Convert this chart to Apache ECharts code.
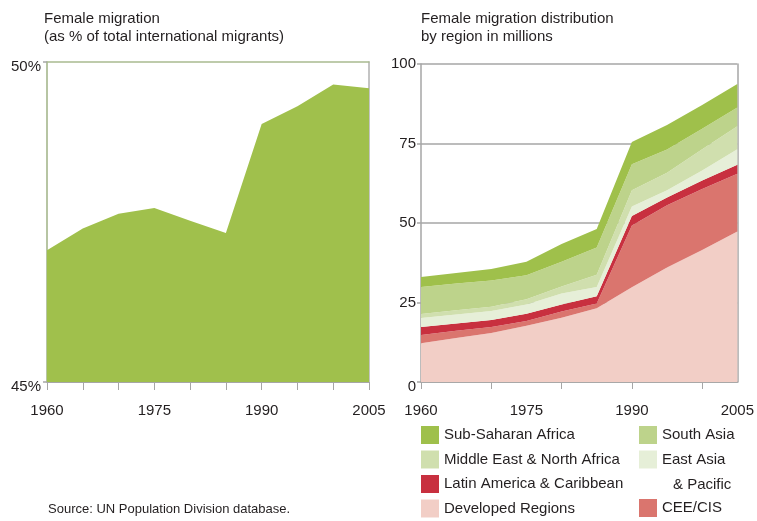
<!DOCTYPE html>
<html>
<head>
<meta charset="utf-8">
<script src="https://cdn.jsdelivr.net/npm/echarts@6/dist/echarts.min.js"></script>
<style>
  html, body { margin: 0; padding: 0; background: #fff; }
  #chart { width: 757px; height: 521px; }
</style>
</head>
<body>
<div id="chart"></div>
<script>
// Years shared by both panels (5-year steps)
const years = ['1960', '1965', '1970', '1975', '1980', '1985', '1990', '1995', '2000', '2005'];

// Left panel: women as % of all international migrants
const femaleShare = [47.06, 47.40, 47.63, 47.72, 47.52, 47.33, 49.03, 49.31, 49.65, 49.59];

// Right panel: female migrants by region, millions (stacked bottom to top)
const developedRegions = [12.2, 13.8, 15.4, 17.7, 20.2, 23.2, 29.8, 36.0, 41.5, 47.3];
const ceeCis           = [2.6, 2.3, 1.9, 1.5, 2.0, 1.5, 19.4, 19.6, 19.2, 18.2];
const latinAmerica     = [2.5, 2.3, 2.2, 2.3, 2.2, 2.3, 3.0, 2.4, 2.7, 2.8];
const eastAsiaPacific  = [2.8, 2.8, 2.8, 2.9, 3.4, 2.9, 3.0, 2.3, 3.1, 4.9];
const middleEast       = [1.3, 1.4, 1.4, 1.6, 2.2, 3.8, 5.1, 5.5, 6.7, 7.2];
const southAsia        = [8.5, 8.4, 8.2, 7.6, 7.8, 8.6, 8.2, 7.3, 6.4, 5.9];
const subSaharan       = [3.1, 3.3, 3.6, 4.2, 5.6, 5.8, 7.0, 7.7, 7.5, 7.4];

const FONT = "'Liberation Sans', Arial, sans-serif";
const FS = 15;
const TXT = '#231f20';
const GREY = '#a6a6a6';

const regionSeries = [
  { name: 'Developed Regions', data: developedRegions, color: '#f2cec6' },
  { name: 'CEE/CIS', data: ceeCis, color: '#da756e' },
  { name: 'Latin America & Caribbean', data: latinAmerica, color: '#c8303f' },
  { name: 'East Asia & Pacific', data: eastAsiaPacific, color: '#e6efd8' },
  { name: 'Middle East & North Africa', data: middleEast, color: '#d0dfae' },
  { name: 'South Asia', data: southAsia, color: '#bdd38b' },
  { name: 'Sub-Saharan Africa', data: subSaharan, color: '#9fc04b' }
];

const chart = echarts.init(document.getElementById('chart'), null, { renderer: 'canvas' });

const legendText = { fontFamily: FONT, fontSize: FS, color: TXT, lineHeight: 18 };
const legendBase = {
  orient: 'vertical', icon: 'rect', itemWidth: 18, itemHeight: 18, itemGap: 6.5,
  selectedMode: false, textStyle: legendText, padding: 0, height: 100
};

const option = {
  animation: false,
  textStyle: { fontFamily: FONT },
  title: [
    {
      text: 'Female migration\n(as % of total international migrants)',
      left: 44, top: 10, padding: 0,
      textStyle: { fontFamily: FONT, fontSize: FS, fontWeight: 'normal', color: TXT, lineHeight: 18 }
    },
    {
      text: 'Female migration distribution\nby region in millions',
      left: 421, top: 10, padding: 0,
      textStyle: { fontFamily: FONT, fontSize: FS, fontWeight: 'normal', color: TXT, lineHeight: 18 }
    },
    {
      text: 'Source: UN Population Division database.',
      left: 48, top: 503, padding: 0,
      textStyle: { fontFamily: FONT, fontSize: 13, fontWeight: 'normal', color: TXT }
    }
  ],
  legend: [
    Object.assign({}, legendBase, {
      left: 421, top: 426,
      data: ['Sub-Saharan Africa', 'Middle East & North Africa', 'Latin America & Caribbean', 'Developed Regions']
    }),
    Object.assign({}, legendBase, {
      left: 639, top: 426,
      data: ['South Asia', 'East Asia & Pacific'],
      formatter: n => n === 'East Asia & Pacific' ? 'East Asia' : n
    }),
    Object.assign({}, legendBase, {
      left: 639, top: 499, height: 30,
      data: ['CEE/CIS']
    })
  ],
  graphic: [
    {
      type: 'text', left: 673, top: 477,
      style: { text: '& Pacific', font: FS + 'px ' + FONT, fill: TXT }
    }
  ],
  grid: [
    { left: 47, top: 62, width: 322, height: 320 },
    { left: 421, top: 64, width: 319, height: 318 }
  ],
  xAxis: [
    {
      gridIndex: 0, type: 'category', data: years, boundaryGap: false, position: 'bottom',
      axisLine: { lineStyle: { color: GREY, width: 1 } },
      axisTick: { length: 8, lineStyle: { color: GREY }, interval: 0 },
      axisLabel: { interval: i => i % 3 === 0, margin: 21, fontSize: FS, color: TXT, fontFamily: FONT }
    },
    {
      gridIndex: 0, type: 'category', data: years, boundaryGap: false, position: 'top',
      axisLine: { lineStyle: { color: '#a9bb90', width: 1.5 } },
      axisTick: { show: false }, axisLabel: { show: false }
    },
    {
      gridIndex: 1, type: 'category', data: years, boundaryGap: false, position: 'bottom',
      axisLine: { lineStyle: { color: GREY, width: 1.5 } },
      axisTick: { length: 7, lineStyle: { color: GREY }, interval: i => i % 2 === 0 },
      axisLabel: { interval: i => i % 3 === 0, margin: 21, fontSize: FS, color: TXT, fontFamily: FONT }
    },
    {
      gridIndex: 1, type: 'category', data: years, boundaryGap: false, position: 'top',
      axisLine: { lineStyle: { color: GREY, width: 1.5 } },
      axisTick: { show: false }, axisLabel: { show: false }
    }
  ],
  yAxis: [
    {
      gridIndex: 0, type: 'value', min: 45, max: 50, interval: 5, position: 'left',
      axisLine: { show: true, lineStyle: { color: '#9fb285', width: 1.5 } },
      axisTick: { show: true, length: 4, lineStyle: { color: GREY, width: 1.5 } },
      splitLine: { show: false },
      axisLabel: {
        margin: 6, fontSize: FS, color: TXT, fontFamily: FONT,
        verticalAlign: 'top', lineHeight: 10,
        formatter: v => v + '%'
      }
    },
    {
      gridIndex: 0, type: 'value', min: 45, max: 50, interval: 5, position: 'right',
      axisLine: { show: true, lineStyle: { color: '#b0b0b0', width: 1.5 } },
      axisTick: { show: false }, axisLabel: { show: false }, splitLine: { show: false }
    },
    {
      gridIndex: 1, type: 'value', min: 0, max: 100, interval: 25, position: 'left',
      axisLine: { show: true, lineStyle: { color: GREY, width: 1.5 } },
      axisTick: { show: true, length: 4, lineStyle: { color: GREY, width: 1.5 } },
      splitLine: { show: true, lineStyle: { color: GREY, width: 1.5 } },
      axisLabel: {
        margin: 5, fontSize: FS, color: TXT, fontFamily: FONT,
        formatter: v => v === 0 ? '{z|0}' : String(v),
        rich: { z: { fontSize: FS, fontFamily: FONT, color: TXT, padding: [10, 0, 0, 0] } }
      }
    },
    {
      gridIndex: 1, type: 'value', min: 0, max: 100, interval: 25, position: 'right',
      axisLine: { show: true, lineStyle: { color: GREY, width: 1.5 } },
      axisTick: { show: false }, axisLabel: { show: false }, splitLine: { show: false }
    }
  ],
  series: [
    {
      name: 'Female share', type: 'line', xAxisIndex: 0, yAxisIndex: 0,
      data: femaleShare, symbol: 'none', silent: true,
      lineStyle: { width: 0 },
      areaStyle: { color: '#a0c04c', opacity: 1, origin: 'start' }
    }
  ].concat(regionSeries.map(s => ({
    name: s.name, type: 'line', xAxisIndex: 2, yAxisIndex: 2, stack: 'regions',
    data: s.data, symbol: 'none', silent: true, color: s.color,
    lineStyle: { width: 0 },
    areaStyle: { color: s.color, opacity: 1 }
  })))
};

chart.setOption(option);
</script>
</body>
</html>
